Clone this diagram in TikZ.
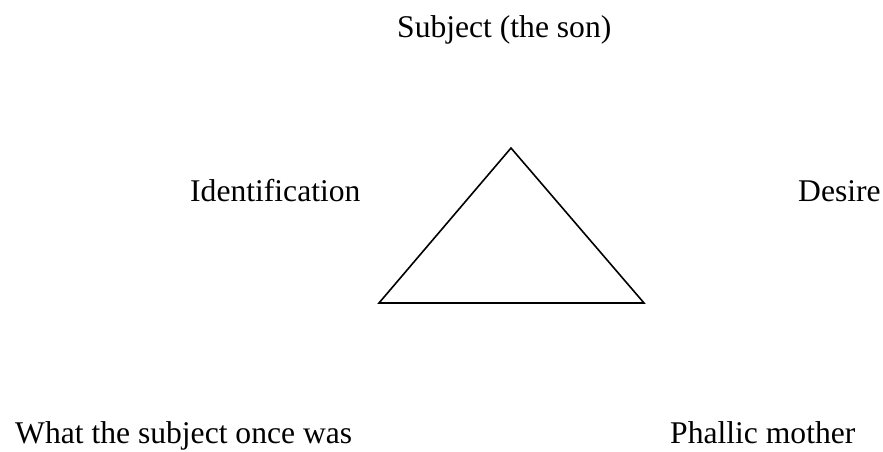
\documentclass[tikz,border=0pt]{standalone}
\usepackage{fontspec}
\setmainfont{Liberation Serif}
\usepackage{tikz}
\usetikzlibrary{positioning,calc}
\tikzset{
  lbl/.style={anchor=base west,inner sep=0pt,font=\fontsize{31.6}{38}\selectfont},
  edge/.style={draw=black,line width=1.6pt},
}

\begin{document}
\begin{tikzpicture}[x=1pt,y=-1pt]
\useasboundingbox (0,0) rectangle (883,451);
\coordinate (top) at (511,148);
\coordinate (bl) at (379,303);
\coordinate (br) at (644,303);
\draw[edge] (top)--(bl)--(br)--cycle;
\node[lbl] (subj) at (397,37) {Subject (the son)};
\node[lbl] (ident) at (190,201) {Identification};
\node[lbl] (desire) at (798,201) {Desire};
\node[lbl] (was) at (15,443) {What the subject once was};
\node[lbl] (mother) at (670,443) {Phallic mother};
\end{tikzpicture}
\end{document}
